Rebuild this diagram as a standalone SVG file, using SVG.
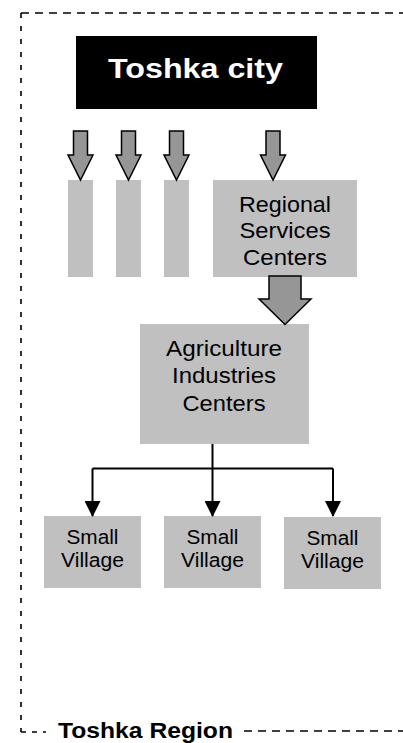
<svg xmlns="http://www.w3.org/2000/svg" width="403" height="743" viewBox="0 0 403 743">
<style>
.bx{fill:#C0C0C0;}
.t{font-family:"Liberation Sans",Arial,sans-serif;fill:#000;text-anchor:middle;}
.bold{font-weight:bold;}
.blk{fill:#969696;stroke:#000;stroke-width:1.5;stroke-linejoin:miter;}
.ln{fill:none;stroke:#000;stroke-width:2;}
.dash{fill:none;stroke:#000;stroke-width:1.6;}
</style>
<defs>
<marker id="ah" viewBox="0 0 16 16" markerWidth="16" markerHeight="16" refX="15" refY="8" orient="auto" markerUnits="userSpaceOnUse">
<path d="M0,0 L16,8 L0,16 Z" fill="#000"/>
</marker>
</defs>
<rect width="403" height="743" fill="#fff"/>
<g id="region-border">
<path class="dash" d="M21,13 L403,13" stroke-dasharray="8 6"/>
<path class="dash" d="M21,13 L21,732" stroke-dasharray="5 8"/>
<path class="dash" d="M21,732 L46,732" stroke-dasharray="5 6"/>
<path class="dash" d="M244,731 L403,731" stroke-dasharray="8 6"/>
<text class="t bold" x="145.5" y="737.5" font-size="22.5" textLength="175" lengthAdjust="spacingAndGlyphs">Toshka Region</text>
</g>
<g id="toshka-city">
<rect x="76" y="36" width="241" height="73" fill="#000"/>
<text class="t bold" x="195.5" y="77.5" font-size="28.5" style="fill:#fff" textLength="175" lengthAdjust="spacingAndGlyphs">Toshka city</text>
</g>
<g id="bar1"><rect class="bx" x="68" y="180" width="25" height="97"/></g>
<g id="bar2"><rect class="bx" x="116" y="180" width="25" height="97"/></g>
<g id="bar3"><rect class="bx" x="164" y="180" width="25" height="97"/></g>
<g id="regional">
<rect class="bx" x="213" y="180" width="144" height="97"/>
<text class="t" font-size="22.5"><tspan x="285" y="211.5" textLength="92" lengthAdjust="spacingAndGlyphs">Regional</tspan><tspan x="285" y="238" textLength="91" lengthAdjust="spacingAndGlyphs">Services</tspan><tspan x="285" y="264.5" textLength="84" lengthAdjust="spacingAndGlyphs">Centers</tspan></text>
</g>
<g id="agriculture">
<rect class="bx" x="140" y="324" width="169" height="120"/>
<text class="t" font-size="22.5"><tspan x="224" y="356" textLength="116" lengthAdjust="spacingAndGlyphs">Agriculture</tspan><tspan x="224" y="383" textLength="104" lengthAdjust="spacingAndGlyphs">Industries</tspan><tspan x="224" y="410.5" textLength="83" lengthAdjust="spacingAndGlyphs">Centers</tspan></text>
</g>
<g id="village1">
<rect class="bx" x="44" y="516" width="97" height="72"/>
<text class="t" font-size="19.5"><tspan x="92.5" y="543.5" textLength="52" lengthAdjust="spacingAndGlyphs">Small</tspan><tspan x="92.5" y="566.5" textLength="63" lengthAdjust="spacingAndGlyphs">Village</tspan></text>
</g>
<g id="village2">
<rect class="bx" x="164" y="516" width="97" height="72"/>
<text class="t" font-size="19.5"><tspan x="212.5" y="543.5" textLength="52" lengthAdjust="spacingAndGlyphs">Small</tspan><tspan x="212.5" y="566.5" textLength="63" lengthAdjust="spacingAndGlyphs">Village</tspan></text>
</g>
<g id="village3">
<rect class="bx" x="284" y="517" width="97" height="72"/>
<text class="t" font-size="19.5"><tspan x="332.5" y="544.5" textLength="52" lengthAdjust="spacingAndGlyphs">Small</tspan><tspan x="332.5" y="567.5" textLength="63" lengthAdjust="spacingAndGlyphs">Village</tspan></text>
</g>
<g id="connectors">
<path class="blk" d="M73.5,131 H87.5 V155 H93 L80.5,180 L68,155 H73.5 Z"/>
<path class="blk" d="M121.5,131 H135.5 V155 H141 L128.5,180 L116,155 H121.5 Z"/>
<path class="blk" d="M169.5,131 H183.5 V155 H189 L176.5,180 L164,155 H169.5 Z"/>
<path class="blk" d="M266,131 H280 V155 H285.5 L273,180 L260.5,155 H266 Z"/>
<path class="blk" d="M269,276 H301 V299 H311 L285,324.5 L259,299 H269 Z"/>
<path class="ln" d="M212.5,444 V468.5"/>
<path class="ln" d="M92.5,468.5 H333"/>
<path class="ln" d="M92.5,468.5 V516" marker-end="url(#ah)"/>
<path class="ln" d="M212.5,468.5 V516" marker-end="url(#ah)"/>
<path class="ln" d="M333,468.5 V516" marker-end="url(#ah)"/>
</g>
</svg>
